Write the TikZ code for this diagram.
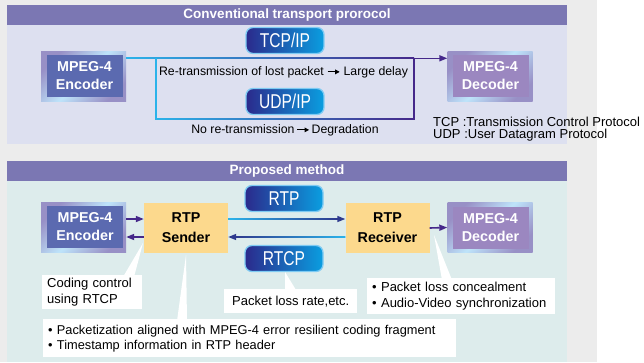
\documentclass[tikz,border=0pt]{standalone}
\usepackage{fontspec}
\setmainfont{Liberation Sans}
\newfontfamily\condfont[FakeStretch=0.78]{Liberation Sans}
\usetikzlibrary{arrows.meta,calc}
\definecolor{bggray}{HTML}{ECECEC}
\definecolor{hdr}{HTML}{7B77B3}
\definecolor{lav}{HTML}{DDE0F0}
\definecolor{teal}{HTML}{DDECEC}
\definecolor{encblue}{HTML}{5B6AB0}
\definecolor{decpurp}{HTML}{9B87C0}
\definecolor{glowp}{HTML}{9890C6}
\definecolor{glowb}{HTML}{BEE4FA}
\definecolor{yel}{HTML}{FCD98D}
\definecolor{purp}{HTML}{45288A}
\definecolor{cyanl}{HTML}{2BB3EA}
\definecolor{navy}{HTML}{2E3A8E}
\definecolor{badgel}{HTML}{2B2A8C}
\definecolor{badger}{HTML}{0A9EE0}
\definecolor{badgeb}{HTML}{7FCBF3}
\newcommand\txtarrow{\tikz[baseline={(0pt,-3.8pt)}]\draw[line width=1pt,-{Triangle[length=4.5pt,width=4.5pt]}] (0pt,0pt) -- (12pt,0pt);}
\tikzset{
  hdrtext/.style={text=white,font=\bfseries\fontsize{13.5}{16}\selectfont,inner sep=0},
  glow/.style={minimum width=85pt,minimum height=50pt,inner sep=0,
    top color=glowp,bottom color=glowp,middle color=glowb,shading angle=45},
  encin/.style={fill=encblue,minimum width=76pt,minimum height=42pt,inner sep=0,
    text=white,align=center,font=\bfseries\fontsize{14.3}{18}\selectfont},
  decin/.style={encin,fill=decpurp},
  rtpbox/.style={fill=yel,minimum width=84pt,minimum height=50pt,inner sep=0,
    align=center,font=\bfseries\fontsize{14.3}{20}\selectfont},
  badge/.style={rounded corners=7pt,left color=badgel,right color=badger,draw=badgeb,
    line width=1.3pt,minimum width=78pt,minimum height=26pt,inner sep=0,
    text=white,font=\condfont\fontsize{20}{20}\selectfont},
  txt/.style={inner sep=0,font=\fontsize{13}{16}\selectfont},
  midtxt/.style={inner sep=0,font=\fontsize{12.3}{16}\selectfont},
  callout/.style={fill=white,inner xsep=5pt,inner ysep=0,align=left,
    font=\fontsize{13}{16}\selectfont},
  tip/.style={-{Triangle[length=8pt,width=6pt]}},
  smallarrow/.style={purp,line width=1.6pt,tip},
  wedge/.style={fill=white},
}
\begin{document}
\begin{tikzpicture}[x=1pt,y=-1pt]
\useasboundingbox (0,0) rectangle (644,362);
\fill[white] (0,0) rectangle (644,362);
\fill[bggray] (0,0) rectangle (597,362);
% panel 1
\fill[lav] (7,25) rectangle (567,144);
\fill[hdr] (7,5) rectangle (567,25);
\node[hdrtext] (h1) at (287,15.5) {Conventional transport prorocol};
% panel 2
\fill[teal] (7,181) rectangle (567,362);
\fill[hdr] (7,161) rectangle (567,181);
\node[hdrtext] (h2) at (287,171.5) {Proposed method};

% ---- panel 1 nodes
\node[glow] (enc) at (83.5,76.5) {};
\node[encin] (encin) at (84.5,76) {MPEG-4\\Encoder};
\node[glow] (dec) at (490,76.5) {};
\node[decin] (decin) at (490.5,76) {MPEG-4\\Decoder};
\node[badge] (tcp) at (285,40.5) {TCP/IP};
\node[badge] (udp) at (285,101.5) {UDP/IP};

\coordinate (tl) at ($(enc.north east)+(0,7)$);
\coordinate (tr) at ($(dec.north west)+(0,7)$);
\coordinate (lt) at (156,58);
\coordinate (lb) at (156,119);
\coordinate (rb) at (414,119);
\coordinate (rt) at (414,58);
\draw[purp,line width=1.6pt,tip] (tl) -- (tr);
\shade[left color=cyanl,right color=purp] ($(tl)+(0,-0.8)$) rectangle ($(rt)+(0,0.8)$);
\draw[purp,line width=1.6pt] (lt) -- (lb) -- (rb) -- (rt);
\draw[cyanl,line width=1.6pt] (lt) -- (lb);
\shade[left color=cyanl,right color=purp] ($(lb)+(-0.8,-0.8)$) rectangle ($(rb)+(0,0.8)$);

\node[midtxt] (t1) at (283.5,72.5) {Re-transmission of lost packet \txtarrow\ Large delay};
\node[midtxt] (t2) at (285,130.5) {No re-transmission\,\txtarrow\,Degradation};
\node[txt,anchor=west] (l1) at (433,122) {TCP :Transmission Control Protocol};
\node[txt,anchor=west] (l2) at (433,135) {UDP :User Datagram Protocol};

% ---- panel 2 nodes
\node[glow] (enc2) at (83.5,227.5) {};
\node[encin] (enc2in) at (85,227) {MPEG-4\\Encoder};
\node[rtpbox] (snd) at (186,228) {RTP\\Sender};
\node[rtpbox] (rcv) at (387.5,228) {RTP\\Receiver};
\node[glow] (dec2) at (490,227.5) {};
\node[decin] (dec2in) at (490.5,228) {MPEG-4\\Decoder};
\node[badge] (rtp) at (284,198.5) {RTP};
\node[badge] (rtcp) at (284,258.5) {RTCP};

\draw[smallarrow] ($(enc2.east)+(0,-8.5)$) -- ($(snd.west)+(0,-9)$);
\draw[smallarrow] ($(snd.west)+(0,9)$) -- ($(enc2.east)+(0,9.5)$);
\draw[smallarrow] (rcv.east) -- (dec2.west);

\draw[navy,line width=1.5pt,tip] ($(snd.east)+(0,-9)$) -- ($(rcv.west)+(0,-9)$);
\shade[left color=cyanl,right color=navy] ($(snd.east)+(0,-9.75)$) rectangle ($(rcv.west)+(-8,-8.25)$);
\draw[navy,line width=1.5pt,tip] ($(rcv.west)+(0,9)$) -- ($(snd.east)+(0,9)$);
\shade[left color=navy,right color=cyanl] ($(snd.east)+(8,8.25)$) rectangle ($(rcv.west)+(0,9.75)$);

% callouts
\fill[wedge] (143,243) -- (123,277) -- (134,277) -- cycle;
\fill[wedge] (186,255) -- (177,321) -- (187,321) -- cycle;
\fill[wedge] (285,272) -- (285,290) -- (296,290) -- cycle;
\fill[wedge] (434,235) -- (442,280) -- (452,280) -- cycle;

\node[callout,anchor=north west,text width=90pt,minimum height=34pt] (c1) at (42,275)
  {Coding control\\using RTCP};
\node[callout,anchor=north west,text width=403pt,minimum height=38pt,
  font=\fontsize{12.8}{15}\selectfont] (c2) at (43,319)
  {• Packetization aligned with MPEG-4 error resilient coding fragment\\• Timestamp information in RTP header};
\node[callout,anchor=north west,minimum width=133pt,minimum height=24pt,align=center] (c3) at (224,289)
  {Packet loss rate,etc.};
\node[callout,anchor=north west,text width=178pt,minimum height=36pt] (c4) at (367,278)
  {• Packet loss concealment\\• Audio-Video synchronization};
\end{tikzpicture}
\end{document}
